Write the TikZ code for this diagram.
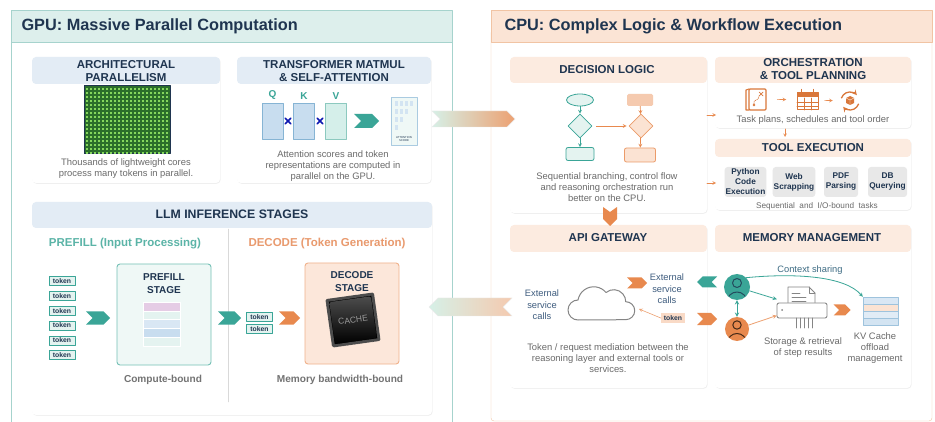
\documentclass[tikz,border=0pt]{standalone}
\usepackage{fontspec}
\setmainfont{Liberation Sans}
\usetikzlibrary{positioning,shapes.geometric,shapes.symbols,shapes.misc,shadows}

\definecolor{navy}{HTML}{1F3550}
\definecolor{tealc}{HTML}{3AA597}
\definecolor{tealt}{HTML}{5BB4A7}
\definecolor{tealbg}{HTML}{E4F3F0}
\definecolor{orng}{HTML}{E8894E}
\definecolor{orngt}{HTML}{E99A6E}
\definecolor{peach}{HTML}{FBE3D3}
\definecolor{gpuhead}{HTML}{DDEFEC}
\definecolor{gpuline}{HTML}{A6D3CD}
\definecolor{cpuhead}{HTML}{FBE4D5}
\definecolor{cpuline}{HTML}{F1C4A4}
\definecolor{bluehead}{HTML}{E3ECF5}
\definecolor{peachhead}{HTML}{FCEBE0}
\definecolor{capgray}{HTML}{6A6A6A}
\definecolor{bluefill}{HTML}{C8DDEF}
\definecolor{blueline}{HTML}{86B4D4}
\definecolor{tealvf}{HTML}{D5EFEA}
\definecolor{tealvl}{HTML}{8CC9BF}
\definecolor{gridd}{HTML}{2B6E2A}
\definecolor{gridl}{HTML}{84D65C}
\definecolor{mint}{HTML}{D6F0E7}
\definecolor{slate}{HTML}{3E5C7E}
\definecolor{icongray}{HTML}{858585}
\definecolor{iconorng}{HTML}{D9773A}

\tikzset{
  card/.style={fill=white, rounded corners=4pt, drop shadow={opacity=0.12, shadow xshift=0.6pt, shadow yshift=-0.8pt}},
  gcard/.style={card, path picture={\fill[bluehead] (path picture bounding box.north west) rectangle ([yshift=-#1pt]path picture bounding box.north east);}},
  ccard/.style={card, path picture={\fill[peachhead] (path picture bounding box.north west) rectangle ([yshift=-#1pt]path picture bounding box.north east);}},
  cardhead/.style={font=\bfseries\fontsize{11.5}{13.5}\selectfont, text=navy, align=center, inner sep=0},
  note/.style={font=\fontsize{9.4}{11}\selectfont, text=capgray, align=center, inner sep=0},
  svc/.style={font=\fontsize{9.3}{11.5}\selectfont, text=slate, align=center, inner sep=0},
  bnd/.style={font=\bfseries\fontsize{10.1}{11}\selectfont, text=black!55, inner sep=0},
  chev/.style={signal, signal to=east, signal from=west, inner sep=0, minimum width=24pt, minimum height=13pt, fill=tealc},
  chevl/.style={chev, signal to=west, signal from=east},
  tok/.style={draw=tealc, fill=tealbg, text=navy, font=\bfseries\fontsize{6.8}{7}\selectfont, minimum width=26pt, minimum height=9pt, inner sep=0},
  qkv/.style={draw=blueline, fill=bluefill, minimum width=21pt, minimum height=36pt},
  qlab/.style={text=tealc, font=\bfseries\fontsize{10}{10}\selectfont, inner sep=0},
  mul/.style={cross out, draw=blue!55!navy, line width=1.6pt, minimum size=4pt, inner sep=0},
  tool/.style={fill=black!9, rounded corners=3pt, text=navy, font=\bfseries\fontsize{8.3}{10}\selectfont, align=center, minimum height=30pt, inner sep=1pt},
  fla/.style={draw=tealc, fill=tealbg, line width=0.8pt},
  flb/.style={draw=orng!85, fill=peach, line width=0.8pt},
}

\begin{document}
\begin{tikzpicture}[x=1pt, y=-1pt, >=stealth, line join=round, line cap=round]
\useasboundingbox (0,0) rectangle (935,422);

\draw[gpuline, fill=white] (11,42) rectangle (452,424);
\draw[gpuline, fill=gpuhead] (11,10) rectangle (452,42);
\node[anchor=west, font=\bfseries\fontsize{16.3}{18}\selectfont, text=navy] (gpu) at (18,26) {GPU: Massive Parallel Computation};

\draw[cpuline, fill=white, rounded corners=3pt] (491,30) rectangle (932,421);
\draw[cpuline, fill=cpuhead] (491,10) rectangle (932,42);
\node[anchor=west, font=\bfseries\fontsize{16.3}{18}\selectfont, text=navy] (cpu) at (501,26) {CPU: Complex Logic \& Workflow Execution};

\path[gcard=27] (32,57) rectangle (220,183);
\path[gcard=27] (237,57) rectangle (431,183);
\path[gcard=26] (32,202) rectangle (432,415);
\path[ccard=26] (510,57) rectangle (707,213);
\path[ccard=26] (715,57) rectangle (911,128);
\path[ccard=18] (715,139) rectangle (911,210);
\path[ccard=27] (510,225) rectangle (707,388);
\path[ccard=27] (715,225) rectangle (911,388);

\node[cardhead] (archh) at (126,71) {ARCHITECTURAL\\PARALLELISM};
\node[cardhead] (trfh) at (334,71) {TRANSFORMER MATMUL\\\& SELF-ATTENTION};
\node[cardhead, font=\bfseries\fontsize{12.3}{14}\selectfont] (llmh) at (232,214) {LLM INFERENCE STAGES};
\node[cardhead] (dech) at (607,70) {DECISION LOGIC};
\node[cardhead] (orch) at (813,69) {ORCHESTRATION\\\& TOOL PLANNING};
\node[cardhead] (toolh) at (813,148) {TOOL EXECUTION};
\node[cardhead] (apih) at (608,238) {API GATEWAY};
\node[cardhead] (memh) at (812,238) {MEMORY MANAGEMENT};

\node[draw=navy, line width=1pt, fill=gridd, minimum width=86pt, minimum height=68pt, inner sep=0] (grid) at (127,120) {};
\foreach \i in {0,...,20}
  \foreach \j in {0,...,16}
    \fill[gridl] (85.7+4*\i, 87.6+4*\j) rectangle ++(2.3,2.3);
\node[note] (archc) at (126,169) {Thousands of lightweight cores\\process many tokens in parallel.};

\node[qkv] (q) at (272.5,121) {};
\node[qkv] (k) at (304,121) {};
\node[qkv, draw=tealvl, fill=tealvf] (v) at (336,121) {};
\node[qlab, above=3pt of q] (ql) {Q};
\node[qlab, above=3pt of k] (kl) {K};
\node[qlab, above=3pt of v] (vl) {V};
\node[mul] (m1) at (288,121) {};
\node[mul] (m2) at (320,121) {};
\node[chev, minimum width=25pt, minimum height=14pt] (qch) at (366.5,121) {};
\node[draw=blueline!70, fill=tealbg!60, minimum width=26pt, minimum height=48pt, inner sep=0] (att) at (404,121) {};
\foreach \r/\n in {0/4,1/3,2/2,3/1}
  \foreach \k in {1,...,\n}
    \fill[bluefill!80] (389.5+5*\k, 101+8*\r) rectangle ++(3.5,5);
\node[font=\fontsize{2.8}{3.2}\selectfont, align=center, text=navy, inner sep=0] (atts) at (404,139) {ATTENTION\\SCORE};
\node[note] (trfc) at (333,166) {Attention scores and token\\representations are computed in\\parallel on the GPU.};

\draw[black!15] (228,229) -- (228,402);
\node[font=\bfseries\fontsize{11.5}{13}\selectfont, text=tealt] (prefh) at (125,244) {PREFILL (Input Processing)};
\node[font=\bfseries\fontsize{11.5}{13}\selectfont, text=orngt] (decoh) at (327,244) {DECODE (Token Generation)};
\foreach \i in {0,...,5}
  \node[tok] (tk\i) at (62,{281+14.8*\i}) {token};
\node[chev] (ch1) at (98,318) {};
\node[draw=tealc!70, fill=tealbg!60, line width=0.9pt, rounded corners=3pt, minimum width=94pt, minimum height=101pt] (pre) at (164,314.5) {};
\node[font=\bfseries\fontsize{10}{13}\selectfont, text=navy, align=center, inner sep=0] (pres) at (164,283.5) {PREFILL\\STAGE};
\foreach \c [count=\i from 0] in {violet!20,tealbg,bluefill!70,bluefill,tealbg}
  \filldraw[fill=\c, draw=white, line width=0.4pt] (143,302+8.8*\i) rectangle ++(37,8.8);
\node[bnd] (cb) at (163,380) {Compute-bound};
\node[chev, minimum width=23pt] (ch2) at (229.5,318) {};
\node[tok] (dt1) at (259.5,317) {token};
\node[tok] (dt2) at (259.5,329) {token};
\node[chev, fill=orng, minimum width=21pt] (ch3) at (289.5,318) {};
\node[draw=orng!65, fill=peach!85, line width=0.9pt, rounded corners=3pt, minimum width=94pt, minimum height=101pt] (dec) at (352,313.5) {};
\node[font=\bfseries\fontsize{10}{13}\selectfont, text=navy, align=center, inner sep=0] (decs) at (352,281.5) {DECODE\\STAGE};
\node[draw=black!70, line width=3pt, dash pattern=on 0.5pt off 0.7pt, fill=black, minimum size=46pt, rotate=8] (pins) at (353,320) {};
\node[top color=black!70, bottom color=black, minimum size=42pt, rounded corners=1.5pt, rotate=8, text=black!40, font=\fontsize{8.5}{9}\selectfont, inner sep=0] (chip) at (353,320) {CACHE};
\node[bnd] (mb) at (340,380) {Memory bandwidth-bound};

\node[signal, signal to=east, signal from=west, inner sep=0, minimum width=83pt, minimum height=16pt, left color=mint, right color=orng!80, draw=black!8] (g2c) at (473.5,119) {};
\node[signal, signal to=west, signal from=east, inner sep=0, minimum width=83pt, minimum height=18pt, left color=mint, right color=orng!45, draw=black!8] (c2g) at (470.5,307) {};

\node[fla, ellipse, minimum width=27pt, minimum height=12pt, inner sep=0] (st1) at (580,100) {};
\node[fla, diamond, minimum width=24pt, minimum height=24pt, inner sep=0] (dm1) at (580,126) {};
\node[fla, rounded corners=2pt, minimum width=28pt, minimum height=13pt, inner sep=0] (ed1) at (580,154) {};
\node[fill=orng!45, rounded corners=1.5pt, minimum width=26pt, minimum height=12pt, inner sep=0] (st2) at (640,100) {};
\node[flb, diamond, minimum width=24pt, minimum height=24pt, inner sep=0] (dm2) at (641,126) {};
\node[flb, rounded corners=2pt, minimum width=31pt, minimum height=14pt, inner sep=0] (ed2) at (640,155) {};
\draw[->, tealc, line width=0.7pt] (st1) -- (dm1);
\draw[->, tealc, line width=0.7pt] (dm1) -- (ed1);
\draw[->, orng, line width=0.7pt] (st2) -- (dm2);
\draw[->, orng, line width=0.7pt] (dm2) -- (ed2);
\draw[->, orng, line width=0.7pt, shorten <=4pt, shorten >=2pt] (dm1) -- (dm2);
\node[note] (decc) at (607,187) {Sequential branching, control flow\\and reasoning orchestration run\\better on the CPU.};
\fill[orng] (603,207) -- (610,212) -- (617,207) -- (617,219) -- (610,226) -- (603,219) -- cycle;

\coordinate (oa) at (707,115);
\coordinate (ob) at (716,115);
\coordinate (ta) at (707,183);
\coordinate (tb) at (716,183);
\coordinate (va) at (785,129);
\coordinate (vb) at (785,137);
\draw[->, orng, line width=0.6pt] (oa) -- (ob);
\draw[->, orng, line width=0.6pt] (ta) -- (tb);
\draw[->, orng, line width=0.6pt] (va) -- (vb);

\node[minimum width=20pt, minimum height=22pt] (map) at (757,99) {};
\node[minimum width=21pt, minimum height=21pt] (cal) at (807,100) {};
\node[minimum width=20pt, minimum height=20pt] (cyc) at (850,101) {};
\draw[iconorng, line width=1.1pt, rounded corners=1pt] (749,89) rectangle (766,110);
\draw[iconorng, line width=1.1pt] (749,89) -- (746,90) -- (746,110) -- (749,110);
\draw[iconorng, line width=0.6pt, dash pattern=on 1pt off 1pt] (754,104) .. controls (752,99) and (760,101) .. (759,96);
\draw[iconorng, line width=0.7pt] (759,92) -- (763,96) (763,92) -- (759,96);
\fill[iconorng] (754,105) circle (1.3);
\draw[iconorng, line width=1pt] (797,93) rectangle (818,110);
\fill[iconorng] (797,93) rectangle (818,97.5);
\foreach \x in {804,811}
  \draw[iconorng, line width=0.8pt] (\x,98) -- (\x,110);
\foreach \y in {102,106}
  \draw[iconorng, line width=0.8pt] (797,\y) -- (818,\y);
\foreach \x in {801.5,813.5}
  \draw[iconorng, line width=1.3pt] (\x,89.5) -- (\x,94.5);
\draw[->, iconorng, line width=1.3pt] (841.5,97.9) arc[start angle=200, end angle=320, radius=9];
\draw[->, iconorng, line width=1.3pt] (858.5,104.1) arc[start angle=20, end angle=140, radius=9];
\fill[iconorng] (846,98) -- (850,96) -- (854,98) -- (854,103) -- (850,105) -- (846,103) -- cycle;
\draw[white, line width=0.4pt] (846,98) -- (850,100) -- (854,98) (850,100) -- (850,105);
\draw[->, orng, line width=0.6pt, shorten <=10pt, shorten >=10pt] (map) -- (cal);
\draw[->, orng, line width=0.6pt, shorten <=7pt, shorten >=7pt] (cal) -- (cyc);
\node[note] (orcc) at (813,120) {Task plans, schedules and tool order};

\node[tool, minimum width=36pt] (py) at (745.5,182) {Python\\Code\\Execution};
\node[tool, minimum width=42pt] (web) at (794,182) {Web\\Scrapping};
\node[tool, minimum width=34pt] (pdf) at (841,182) {PDF\\Parsing};
\node[tool, minimum width=39pt] (db) at (887.5,182) {DB\\Querying};
\node[note, font=\fontsize{8.2}{9}\selectfont] (toolc) at (817,206) {Sequential\ \ and\ \ I/O-bound\ \ tasks};

\node[svc] (ext1) at (542,305) {External\\service\\calls};
\draw[icongray, line width=1pt] (578,320) arc[start angle=90, end angle=270, radius=10] arc[start angle=190, end angle=320, radius=16] arc[start angle=230, end angle=360, radius=12] arc[start angle=270, end angle=450, radius=9] -- cycle;
\coordinate (cld) at (639,309);
\node[chev, fill=orng, minimum width=20pt, minimum height=11pt] (apich) at (637,283) {};
\node[svc] (ext2) at (667,289) {External\\service\\calls};
\node[tok, draw=none, fill=peach!90!orng, minimum width=24pt] (tka) at (673,318) {token};
\draw[->, orng!80, line width=0.6pt] (tka.west) -- (cld);
\node[note] (apic) at (608,358) {Token / request mediation between the\\reasoning layer and external tools or\\services.};

\node[chevl, minimum width=20pt, minimum height=11pt] (ml) at (707,282) {};
\node[chev, fill=orng, minimum width=20pt, minimum height=12pt] (mr) at (707,319) {};
\node[circle, fill=tealc, minimum size=26pt, inner sep=0] (pt1) at (737,287) {};
\node[circle, fill=orng, minimum size=24pt, inner sep=0] (pt2) at (737,329) {};
\begin{scope}
  \clip (737,287) circle (12.5);
  \draw[navy!80!tealc, line width=1pt] (737,283) circle (4.5);
  \draw[navy!80!tealc, line width=1pt] (737,302) circle (10);
\end{scope}
\begin{scope}
  \clip (737,329) circle (11.5);
  \draw[black!70!orng, line width=1pt] (737,325) circle (4.2);
  \draw[black!70!orng, line width=1pt] (737,343) circle (9.5);
\end{scope}
\draw[<->, tealc, line width=0.9pt] (pt1) -- (pt2);
\node[minimum width=50pt, minimum height=42pt, inner sep=0] (shr) at (802,307) {};
\draw[icongray, line width=0.9pt, fill=white] (788,304) -- (788,287) -- (809,287) -- (815,293) -- (815,304);
\draw[icongray, line width=0.8pt] (809,287) -- (809,293) -- (815,293);
\foreach \y/\w in {293/800,297/806,301/806}
  \draw[icongray, line width=0.8pt] (792,\y) -- (\w,\y);
\draw[icongray, line width=0.9pt, fill=white, rounded corners=2pt] (777,303) rectangle (827,318);
\fill[icongray] (782,310) circle (1);
\foreach \x in {796,800,...,812}
  \draw[icongray, line width=0.9pt] (\x,318) -- (\x,328);
\node[chev, fill=orng, minimum width=17pt, minimum height=11pt] (kch) at (842,310) {};
\node[minimum width=35pt, minimum height=28pt, inner sep=0] (kv) at (880.5,311) {};
\foreach \c [count=\i from 0] in {bluefill!70,peach,bluefill!55,bluefill!80}
  \filldraw[fill=\c, draw=blueline!80, line width=0.5pt] (863,297+7*\i) rectangle ++(35,7);
\draw[->, tealc, line width=0.8pt] (pt1) -- (shr);
\draw[->, orng!80, line width=0.8pt] (pt2) -- (shr);
\draw[->, tealc, line width=0.8pt] (pt1.north east) .. controls (795,273) and (845,276) .. (kv.north west);
\node[note, font=\fontsize{9.3}{11}\selectfont, text=slate!80!tealc] (ctx) at (810,270) {Context sharing};
\node[note] (memc1) at (803,348) {Storage \& retrieval\\of step results};
\node[note] (memc2) at (875,348) {KV Cache\\offload\\management};
\end{tikzpicture}
\end{document}
